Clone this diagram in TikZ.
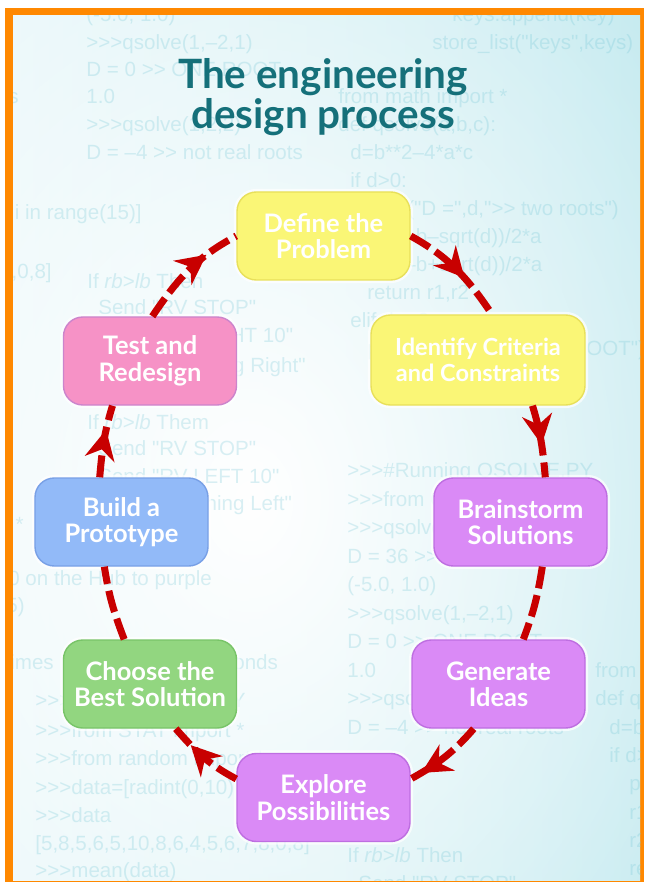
\documentclass[tikz,border=0pt]{standalone}
\usepackage{fontspec}
\newfontfamily\latofont{Lato}
\newfontfamily\codefont{Liberation Sans}
\definecolor{dpframe}{RGB}{255,136,0}
\definecolor{dpbgleft}{RGB}{226,245,248}
\definecolor{dpbgright}{RGB}{182,229,236}
\definecolor{dpcode}{RGB}{110,196,212}
\definecolor{dpteal}{RGB}{21,112,122}
\definecolor{dpred}{RGB}{200,0,0}
\definecolor{dpyellow}{RGB}{250,246,118}
\definecolor{dpyellowline}{RGB}{232,224,90}
\definecolor{dppink}{RGB}{246,146,198}
\definecolor{dppinkline}{RGB}{204,132,204}
\definecolor{dpblue}{RGB}{146,186,248}
\definecolor{dpblueline}{RGB}{120,160,230}
\definecolor{dpgreen}{RGB}{146,214,128}
\definecolor{dpgreenline}{RGB}{120,196,104}
\definecolor{dppurple}{RGB}{218,138,246}
\definecolor{dppurpleline}{RGB}{190,110,225}
\usetikzlibrary{arrows.meta,decorations.markings,fadings}

\tikzfading[name=dpglow,inner color=transparent!0,outer color=transparent!100]

\begin{document}
\begin{tikzpicture}[x=0.2mm,y=0.2mm,
  stage/.style={draw=#1line,fill=#1,text=white,rounded corners=11pt,line width=0.8pt,
    preaction={draw=white,line width=3.5pt,opacity=0.7},
    minimum width=3.46cm,minimum height=1.76cm,align=center,
    font=\latofont\bfseries\fontsize{14.5}{15}\selectfont},
  codeline/.style={anchor=base west,inner sep=0pt,text=dpcode,text opacity=0.26,
    font=\codefont\fontsize{11.7}{14}\selectfont},
  loopdash/.style={draw=dpred,line width=4pt,dash pattern=on 12.5pt off 4pt},
  tipat/.style={postaction={decorate},decoration={markings,
    mark=at position #1 with {\arrow{Stealth[length=17pt,width=17pt]}}}}]
  \useasboundingbox (0,0) rectangle (644,-882);
  \fill[white] (0,0) rectangle (644,-882);
  \fill[dpframe] (5,-8) rectangle (644,-882);

  % backdrop with faint code listing
  \begin{scope}
    \clip (13,-16) rectangle (640,-880);
    \shade[left color=dpbgleft,right color=dpbgright] (13,-16) rectangle (640,-880);
    \fill[white,path fading=dpglow] (250,-500) ellipse (700 and 900);
    \foreach \cx/\cy/\snip in {
      86/22/{(-5.0, 1.0)}, 86/50/{>>>qsolve(1,–2,1)}, 86/77/{D = 0 >> ONE ROOT},
      86/104/{1.0}, 86/132/{>>>qsolve(1,2,2)}, 86/160/{D = –4 >> not real roots},
      452/22/{keys.append(key)}, 432/50/{store\_list("keys",keys)},
      338/104/{from math import *}, 338/132/{def qsolve(a,b,c):},
      350/160/{d=b**2–4*a*c}, 350/188/{if d>0:},
      367/216/{print("D =",d,">> two roots")}, 367/244/{r1=(–b–sqrt(d))/2*a},
      367/272/{r2=(–b+sqrt(d))/2*a}, 367/300/{return r1,r2},
      350/328/{elif d==0:}, 367/356/{print("D =",d,">> ONE ROOT")},
      87/289/{If \textit{rb}>\textit{lb} Then}, 98/315/{Send "RV STOP"},
      98/343/{Send "RV RIGHT 10"}, 120/372/{Print "Turning Right"},
      87/429/{If \textit{rb}>\textit{lb} Them}, 98/455/{Send "RV STOP"},
      98/483/{Send "RV LEFT 10"}, 120/510/{Print "Turning Left"},
      8/585/{0 on the Hub to purple}, 6/612/{5)}, 10/669/{imes}, 233/669/{onds},
      347/477/{>>>\#Running QSOLVE.PY}, 347/506/{>>>from QSOLVE import *},
      347/534/{>>>qsolve(1,4,–5)}, 347/563/{D = 36 >> two roots},
      347/591/{(-5.0, 1.0)}, 347/620/{>>>qsolve(1,–2,1)},
      347/648/{D = 0 >> ONE ROOT}, 347/677/{1.0},
      347/705/{>>>qsolve(1,2,2)}, 347/734/{D = –4 >> not real roots},
      347/862/{If \textit{rb}>\textit{lb} Then}, 358/890/{Send "RV STOP"},
      595/677/{from math import *}, 595/705/{def qsolve(a,b,c):},
      609/734/{d=b**2–4*a*c}, 609/762/{if d>0:},
      629/790/{print("D =",d,">> two roots")}, 629/819/{r1=(–b–sqrt(d))/2*a},
      629/847/{r2=(–b+sqrt(d))/2*a}, 629/875/{return r1,r2},
      35/707/{>>>\#Running STAT.PY}, 35/737/{>>>from STAT import *},
      35/765/{>>>from random import *}, 35/794/{>>>data=[radint(0,10) for i in range(15)]},
      35/822/{>>>data}, 35/850/{[5,8,5,6,5,10,8,6,4,5,6,7,8,0,8]},
      35/877/{>>>mean(data)}}
      \node[codeline] at (\cx,-\cy) {\snip};
    \foreach \cx/\cy/\snip in {
      142/220/{>>>data=[radint(0,10) for i in range(15)]},
      52/279/{[5,8,5,6,5,10,8,6,4,5,6,7,8,0,8]}, 19/104/{s}, 24/531/{*}}
      \node[codeline,anchor=base east] at (\cx,-\cy) {\snip};
  \end{scope}

  \node[text=dpteal,align=center,font=\latofont\bfseries\fontsize{23}{22.5}\selectfont]
    (title) at (323,-97) {The engineering\\design process};

  % the eight stages, clockwise from the top
  \node[stage=dpyellow] (def) at (323.5,-236) {Define the\\Problem};
  \node[stage=dpyellow,minimum width=4.28cm,minimum height=1.8cm,
    font=\latofont\bfseries\fontsize{13.4}{15}\selectfont]
    (idf) at (478,-360) {Identify Criteria\\and Constraints};
  \node[stage=dppurple] (brn) at (520.5,-522) {Brainstorm\\Solutions};
  \node[stage=dppurple] (gen) at (498.5,-684) {Generate\\Ideas};
  \node[stage=dppurple] (exp) at (323.5,-797.5) {Explore\\Possibilities};
  \node[stage=dpgreen] (cho) at (150,-684) {Choose the\\Best Solution};
  \node[stage=dpblue] (bld) at (121.5,-522) {Build a\\Prototype};
  \node[stage=dppink] (tst) at (150,-361) {Test and\\Redesign};

  \draw[loopdash,tipat=0.6] (def.east) to[out=-29,in=124] (idf.73);
  \draw[loopdash,tipat=0.55] (idf.-40) to[out=-73,in=95] (brn.61);
  \draw[loopdash] (brn.-64) to[out=-99,in=69] (gen.61);
  \draw[loopdash,tipat=0.85] (gen.-119) to[out=-131,in=29] (exp.12);
  \draw[loopdash,tipat=0.72] (exp.168) to[out=152,in=-49] (cho.-60);
  \draw[loopdash] (cho.120) to[out=111,in=-81] (bld.-111);
  \draw[loopdash,tipat=0.66] (bld.116) to[out=85,in=-107] (tst.-130);
  \draw[loopdash,tipat=0.7] (tst.87) to[out=56,in=-152] (def.west);
\end{tikzpicture}
\end{document}
